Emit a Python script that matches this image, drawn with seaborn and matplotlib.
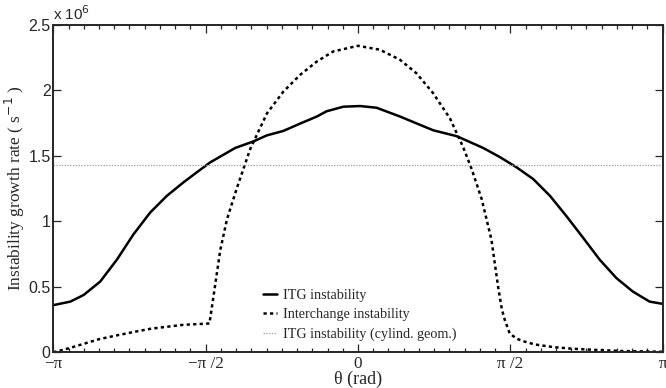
#!/usr/bin/env python3

import numpy as np
import pandas
import seaborn as sns
import matplotlib.pyplot as plt

# Poloidal angle positions (in units of pi) and growth rates (x 1e6 s^-1)
itg_theta = [-1.0, -0.944, -0.90, -0.846, -0.791, -0.737, -0.682, -0.627, -0.573, -0.529,
             -0.485, -0.403, -0.343, -0.299, -0.245, -0.19, -0.135, -0.103, -0.048, 0.007,
             0.061, 0.138, 0.20, 0.247, 0.324, 0.411, 0.466, 0.520, 0.575, 0.630,
             0.684, 0.739, 0.793, 0.848, 0.902, 0.957, 1.0]
itg_rate = [0.36, 0.387, 0.438, 0.54, 0.708, 0.90, 1.067, 1.195, 1.297, 1.374,
            1.45, 1.56, 1.61, 1.656, 1.69, 1.746, 1.80, 1.84, 1.875, 1.88,
            1.867, 1.80, 1.74, 1.695, 1.65, 1.56, 1.49, 1.413, 1.323, 1.195,
            1.04, 0.874, 0.708, 0.567, 0.464, 0.387, 0.37]

inter_theta = [-1.0, -0.95, -0.90, -0.85, -0.79, -0.73, -0.68, -0.62, -0.573, -0.4875,
               -0.474, -0.452, -0.43, -0.398, -0.354, -0.343, -0.299, -0.245, -0.19, -0.135,
               -0.081, 0.0, 0.072, 0.138, 0.192, 0.247, 0.302, 0.345, 0.373, 0.406,
               0.438, 0.46, 0.472, 0.482, 0.498, 0.52, 0.542, 0.58, 0.64, 0.70,
               0.78, 0.864, 1.0]
inter_rate = [0.0, 0.03, 0.065, 0.10, 0.13, 0.158, 0.18, 0.197, 0.21, 0.22,
              0.43, 0.78, 1.015, 1.25, 1.55, 1.605, 1.823, 1.99, 2.118, 2.22,
              2.297, 2.34, 2.31, 2.233, 2.13, 1.977, 1.785, 1.567, 1.40, 1.17,
              0.86, 0.50, 0.33, 0.246, 0.144, 0.105, 0.085, 0.06, 0.04, 0.028,
              0.018, 0.01, 0.004]

cyl_theta = [-1.0, 1.0]
cyl_rate = [1.43, 1.43]

xtick_pos = [-1.0, -0.5, 0.0, 0.5, 1.0]
xtick_labels = ["\u2212\u03c0", "\u2212\u03c0 /2", "0", "\u03c0 /2", "\u03c0"]
ytick_pos = [0, 0.5, 1, 1.5, 2, 2.5]
ytick_labels = ["0", "0.5", "1", "1.5", "2", "2.5"]


def main():
    sns.set_style("ticks")
    plt.rcParams["font.family"] = ["Liberation Sans", "DejaVu Sans"]
    plt.rcParams["axes.linewidth"] = 1.4

    fig = plt.figure(figsize=(6.66, 3.88), dpi=100)
    ax = fig.add_axes([0.08, 0.092, 0.915, 0.844])

    itg = pandas.DataFrame({"theta": np.array(itg_theta) * np.pi, "rate": np.array(itg_rate) * 1e6})
    inter = pandas.DataFrame({"theta": np.array(inter_theta) * np.pi, "rate": np.array(inter_rate) * 1e6})
    cyl = pandas.DataFrame({"theta": np.array(cyl_theta) * np.pi, "rate": np.array(cyl_rate) * 1e6})

    sns.lineplot(data=itg, x="theta", y="rate", ax=ax, color="black", lw=1.8,
                 label="ITG instability", sort=False)
    sns.lineplot(data=inter, x="theta", y="rate", ax=ax, color="black", lw=1.8,
                 linestyle=(0, (1.3, 1.3)), label="Interchange instability", sort=False)
    sns.lineplot(data=cyl, x="theta", y="rate", ax=ax, color="#aaaaaa", lw=1.0,
                 linestyle=(0, (1, 1)), label="ITG instability (cylind. geom.)", sort=False)

    ax.set_xlim(-np.pi, np.pi)
    ax.set_ylim(0, 2.5e6)

    ax.set_xticks(np.array(xtick_pos) * np.pi)
    ax.set_xticklabels(xtick_labels, family="Liberation Serif", fontsize=12.3)
    ax.set_xticks(np.arange(-20, 21) * np.pi / 20, minor=True)
    ax.set_yticks(np.array(ytick_pos) * 1e6)
    ax.set_yticklabels(ytick_labels, fontsize=11.5)

    ax.tick_params(which="both", direction="in", top=True, right=True, width=0.9)
    ax.tick_params(which="major", length=6, pad=2)
    ax.tick_params(axis="x", which="major", pad=3)
    ax.tick_params(which="minor", length=3)
    for s in ax.spines.values():
        s.set_visible(True)
        s.set_linewidth(1.4)

    ax.set_xlabel("\u03b8 (rad)", family="Liberation Serif", fontsize=13, labelpad=-1)
    ax.set_ylabel("Instability growth rate ( s$^{-1}$ )", family="Liberation Serif",
                  fontsize=12.5)
    ax.yaxis.set_label_coords(-0.043, 0.5)
    ax.text(0.0, 1.005, "x 10$^6$", transform=ax.transAxes, fontsize=11,
            ha="left", va="bottom")

    ax.legend(loc="lower left", bbox_to_anchor=(0.323, -0.005), frameon=False,
              prop={"family": "Liberation Serif", "size": 10.2},
              handlelength=1.0, handletextpad=0.4, labelspacing=0.45)

    fig.savefig("out.png", dpi=100)
    plt.close(fig)


if __name__ == "__main__":
    main()
